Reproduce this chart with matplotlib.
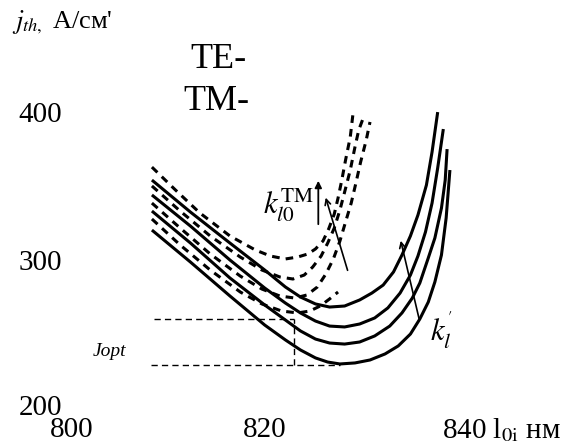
import numpy as np
import matplotlib.pyplot as plt

plt.rcParams['font.family'] = ['Liberation Serif', 'DejaVu Serif']
plt.rcParams['mathtext.fontset'] = 'stix'

# TE threshold curves (solid): wavelength, nm / j_th, A/cm^2
te_x = [
    [808.5, 812.6, 816.8, 820.5, 822.7, 824.3, 825.9, 827.4, 829.0, 830.6, 831.9, 833.1, 834.2, 835.1,
     836.0, 836.8, 837.7, 838.3, 838.9],
    [808.5, 812.6, 816.8, 820.5, 822.7, 824.3, 825.9, 827.4, 829.0, 830.6, 832.2, 833.6, 834.9, 836.0,
     836.8, 837.6, 838.3, 838.9, 839.5],
    [808.5, 812.6, 816.8, 820.5, 822.7, 824.3, 825.9, 827.4, 829.0, 830.6, 832.2, 833.8, 835.1, 836.2,
     837.0, 837.9, 838.6, 839.3, 839.7, 839.9],
    [808.5, 812.6, 816.8, 820.5, 822.7, 824.3, 825.9, 827.2, 828.5, 830.1, 831.7, 833.3, 834.7, 836.0,
     837.0, 837.9, 838.6, 839.3, 839.8, 840.2],
]
te_y = [
    [355.9, 334.2, 313.2, 294.9, 283.4, 276.6, 271.9, 269.8, 270.5, 274.6, 279.3, 284.7, 293.6, 305.1,
     318.0, 332.2, 352.5, 374.9, 402.0],
    [345.8, 324.7, 301.7, 282.7, 272.5, 265.8, 260.3, 256.9, 256.3, 258.3, 262.4, 269.2, 279.3, 291.5,
     304.4, 320.7, 340.3, 364.1, 390.5],
    [334.9, 313.2, 289.5, 271.2, 261.0, 253.6, 248.1, 245.4, 244.7, 246.1, 250.2, 256.9, 265.8, 275.9,
     286.1, 303.1, 316.6, 336.9, 355.9, 376.9],
    [322.0, 300.3, 277.3, 257.6, 247.5, 240.7, 235.3, 232.5, 231.2, 231.9, 233.9, 238.0, 243.4, 251.5,
     261.7, 273.2, 286.8, 305.1, 330.2, 362.7],
]

# TM threshold curves (dashed)
tm_x = [
    [808.5, 811.0, 813.6, 816.8, 819.5, 821.1, 822.7, 824.0, 825.1, 825.9, 826.7, 827.3, 827.9, 828.3,
     828.7, 829.1, 829.6, 829.9],
    [808.5, 811.5, 814.7, 817.9, 820.2, 822.1, 823.5, 824.7, 825.6, 826.5, 827.2, 827.9, 828.5, 829.0,
     829.6, 830.1, 830.5, 830.9],
    [808.5, 811.5, 814.7, 817.9, 820.2, 822.1, 823.7, 825.0, 826.1, 827.0, 827.8, 828.5, 829.1, 829.7,
     830.2, 830.7, 831.3, 831.7],
    [808.5, 811.5, 814.7, 817.9, 820.2, 822.3, 824.0, 825.3, 826.4, 827.4, 828.3],
]
tm_y = [
    [364.7, 349.2, 333.6, 318.0, 308.5, 304.4, 302.4, 303.7, 305.8, 309.2, 314.6, 322.7, 332.9, 343.7,
     355.9, 369.5, 385.1, 401.4],
    [351.9, 334.9, 318.0, 303.7, 294.9, 290.2, 288.8, 291.5, 296.9, 304.4, 313.2, 323.4, 335.6, 347.8,
     362.7, 378.3, 389.8, 396.6],
    [340.3, 323.4, 305.8, 290.8, 282.0, 277.3, 275.9, 278.0, 283.4, 292.2, 302.4, 314.6, 327.5, 340.3,
     353.9, 368.1, 383.1, 395.3],
    [329.5, 311.9, 294.9, 280.0, 271.9, 267.1, 265.8, 267.1, 270.5, 275.3, 280.0],
]

# optimum guide lines
lam_opt = 823.6
j_opt = 230.5
j_level = 261.7
guide_x0 = 808.4

W, H = 563, 447


def fxy(px, py):
    # pixel position -> figure fraction
    return px / W, 1 - py / H


fig = plt.figure(figsize=(W / 100, H / 100), dpi=100)
ax = fig.add_axes([0, 0, 1, 1])
ax.set_xlim(792.34, 852.23)
ax.set_ylim(174.9, 478.0)
ax.axis('off')

for xs, ys in zip(te_x, te_y):
    ax.plot(xs, ys, color='black', lw=2.2, solid_capstyle='butt', solid_joinstyle='round')
for xs, ys in zip(tm_x, tm_y):
    ax.plot(xs, ys, color='black', lw=2.2, linestyle=(0, (2.5, 2.0)), dash_capstyle='butt')

guide = dict(color='black', lw=1.0, linestyle=(0, (4.5, 3.0)))
ax.plot([guide_x0 + 0.3, lam_opt], [j_level, j_level], **guide)
ax.plot([guide_x0, 828.5], [j_opt, j_opt], **guide)
ax.plot([lam_opt, lam_opt], [j_opt, j_level], **guide)

# arrows
ax.annotate('', xy=(826.2, 357.3), xytext=(826.2, 324.1),
            arrowprops=dict(arrowstyle='-|>', color='black', lw=1.3, mutation_scale=10))
ax.annotate('', xy=(826.9, 345.8), xytext=(829.4, 292.9),
            arrowprops=dict(arrowstyle='->', color='black', lw=1.2, mutation_scale=10))
ax.annotate('', xy=(834.9, 316.6), xytext=(837.0, 259.7),
            arrowprops=dict(arrowstyle='->', color='black', lw=1.2, mutation_scale=10))

# texts
fig.text(*fxy(12, 22), "$j_{th,}$ А/см'", fontsize=19, ha='left', va='center')
fig.text(*fxy(190, 60), 'TE-', fontsize=26, ha='left', va='center')
fig.text(*fxy(183, 101), 'TM-', fontsize=26, ha='left', va='center')
for lab, py in [('400', 115), ('300', 263), ('200', 408)]:
    fig.text(*fxy(40, py), lab, fontsize=21, ha='center', va='center')
fig.text(*fxy(72, 430), '800', fontsize=21, ha='center', va='center')
fig.text(*fxy(265, 430), '820', fontsize=21, ha='center', va='center')
fig.text(*fxy(442, 430), r'840 l$_{\rm 0i}$ нм', fontsize=21, ha='left', va='center')
fig.text(*fxy(93, 352), 'Jopt', fontsize=14, style='italic', ha='left', va='center')
fig.text(*fxy(263, 205), r'$k_{l0}^{\rm TM}$', fontsize=22, ha='left', va='center')
fig.text(*fxy(430, 330), r"$k_l^{'}$", fontsize=22, ha='left', va='center')

fig.savefig('out.png', dpi=100)
